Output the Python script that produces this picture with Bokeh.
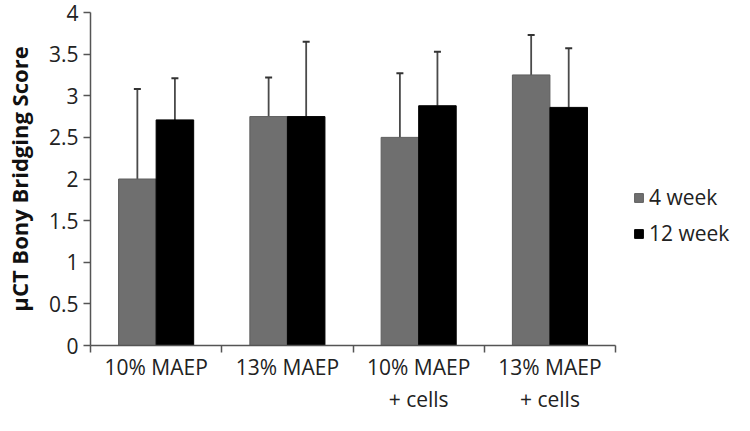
from bokeh.plotting import figure
from bokeh.models import (Range1d, FixedTicker, ColumnDataSource, Whisker, TeeHead,
                          Legend, LegendItem)
from bokeh.embed import file_html
from bokeh.resources import INLINE

# ---- data ----
categories = ["10% MAEP", "13% MAEP", "10% MAEP\n+ cells", "13% MAEP\n+ cells"]
series_names = ["4 week", "12 week"]
week4 = [2.0, 2.75, 2.5, 3.25]
week4_err = [1.08, 0.47, 0.77, 0.48]
week12 = [2.71, 2.75, 2.88, 2.86]
week12_err = [0.50, 0.90, 0.65, 0.71]
y_ticks = [0, 0.5, 1, 1.5, 2, 2.5, 3, 3.5, 4]
y_tick_labels = ["0", "0.5", "1", "1.5", "2", "2.5", "3", "3.5", "4"]

FONT = "Open Sans"
GRAY = "#6f6f6f"
BLACK = "#000000"
ERR = "#4a4a4a"
AX = "#555555"

n = len(categories)
centers = [i + 0.5 for i in range(n)]
off = 0.143
bw = 0.286

p = figure(width=734, height=415, output_backend="svg", toolbar_location=None,
           x_range=Range1d(0, n + 0.906), y_range=Range1d(0, 4),
           min_border_left=87, min_border_right=0, min_border_top=12,
           min_border_bottom=70)
p.outline_line_color = None
p.xgrid.visible = False
p.ygrid.visible = False
p.background_fill_color = "white"
p.border_fill_color = "white"

src4 = ColumnDataSource(dict(x=[c - off for c in centers], top=week4,
                             up=[v + e for v, e in zip(week4, week4_err)]))
src12 = ColumnDataSource(dict(x=[c + off for c in centers], top=week12,
                              up=[v + e for v, e in zip(week12, week12_err)]))

r4 = p.vbar(x="x", top="top", bottom=0, width=bw, source=src4,
            fill_color=GRAY, line_color="#5e5e5e", line_width=1)
r12 = p.vbar(x="x", top="top", bottom=0, width=bw, source=src12,
             fill_color=BLACK, line_color=BLACK, line_width=1)

for src in (src4, src12):
    w = Whisker(base="x", lower="top", upper="up", source=src,
                line_color=ERR, line_width=1.8,
                upper_head=TeeHead(size=7, line_color="#333333", line_width=2),
                lower_head=None)
    p.add_layout(w)

# y axis
ya = p.yaxis[0]
ya.ticker = FixedTicker(ticks=y_ticks, minor_ticks=[])
ya.major_label_overrides = {t: l for t, l in zip(y_ticks, y_tick_labels)}
ya.major_tick_out = 7
ya.major_tick_in = 0
ya.minor_tick_out = 0
ya.minor_tick_in = 0
ya.axis_line_color = AX
ya.axis_line_width = 1.5
ya.major_tick_line_color = AX
ya.major_tick_line_width = 1.5
ya.major_label_text_font = FONT
ya.major_label_text_font_size = "21px"
ya.major_label_text_color = "#222222"
ya.major_label_standoff = 5
ya.axis_label = "µCT Bony Bridging Score"
ya.axis_label_text_font = FONT
ya.axis_label_text_font_style = "bold"
ya.axis_label_text_font_size = "22px"
ya.axis_label_text_color = "#111111"
ya.axis_label_standoff = 12

# x axis
xa = p.xaxis[0]
xa.bounds = (0, n)
xa.ticker = FixedTicker(ticks=centers, minor_ticks=list(range(n + 1)))
xa.major_label_overrides = {c: lab for c, lab in zip(centers, categories)}
xa.major_tick_out = 0
xa.major_tick_in = 0
xa.minor_tick_out = 7
xa.minor_tick_in = 0
xa.minor_tick_line_color = AX
xa.minor_tick_line_width = 1.5
xa.axis_line_color = AX
xa.axis_line_width = 1.5
xa.major_label_text_font = FONT
xa.major_label_text_font_size = "21px"
xa.major_label_text_color = "#222222"
xa.major_label_standoff = 0
xa.major_label_text_line_height = 1.15

legend = Legend(items=[LegendItem(label=series_names[0], renderers=[r4]),
                       LegendItem(label=series_names[1], renderers=[r12])],
                location=(543, 98), margin=0, padding=0,
                border_line_color=None, background_fill_alpha=0,
                glyph_width=11, glyph_height=11, label_standoff=5,
                spacing=8, label_height=20,
                label_text_font=FONT, label_text_font_size="21px",
                label_text_color="#222222")
p.add_layout(legend)

with open("out.html", "w") as f:
    f.write(file_html(p, INLINE))
